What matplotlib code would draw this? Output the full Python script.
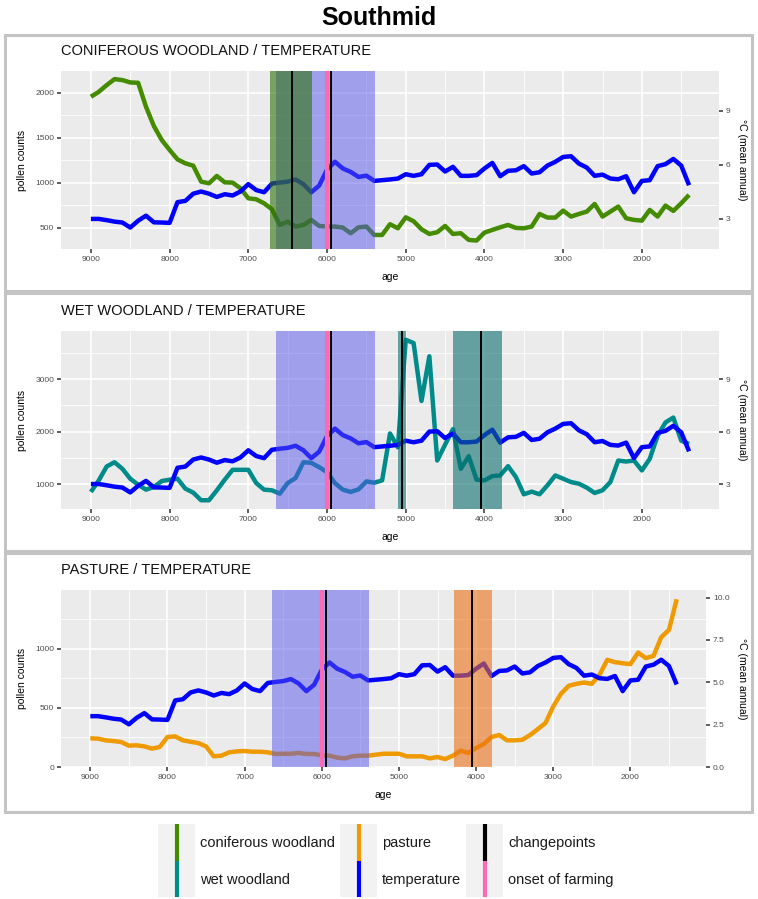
import numpy as np
import matplotlib.pyplot as plt
from matplotlib.patches import Rectangle

plt.rcParams['font.family'] = ['Liberation Sans', 'DejaVu Sans']

# ---- data ----
age = np.arange(9000, 1399, -100)

temperature = [3.0, 3.0, 2.93, 2.85, 2.8, 2.52, 2.9, 3.18, 2.81, 2.8,
               2.78, 3.93, 4.0, 4.4, 4.52, 4.4, 4.22, 4.37, 4.3, 4.52,
               4.93, 4.6, 4.48, 4.96, 5.02, 5.07, 5.19, 4.93, 4.48, 4.85,
               5.74, 6.17, 5.8, 5.61, 5.33, 5.4, 5.11, 5.15, 5.19, 5.24,
               5.48, 5.39, 5.48, 6.0, 6.02, 5.63, 5.89, 5.39, 5.39, 5.43,
               5.8, 6.11, 5.37, 5.67, 5.7, 5.93, 5.52, 5.59, 5.96, 6.17,
               6.44, 6.48, 6.07, 5.85, 5.39, 5.46, 5.24, 5.2, 5.37, 4.48,
               5.11, 5.15, 5.93, 6.04, 6.33, 5.96, 4.87]

coniferous = [1956, 2011, 2085, 2152, 2141, 2115, 2111, 1845, 1631, 1476,
              1365, 1261, 1217, 1191, 1014, 995, 1077, 1006, 1003, 940,
              829, 818, 773, 707, 533, 570, 515, 533, 589, 522,
              515, 515, 504, 441, 507, 515, 422, 422, 541, 496,
              618, 574, 485, 433, 452, 522, 433, 441, 367, 360,
              448, 478, 507, 533, 500, 496, 515, 655, 615, 615,
              692, 626, 655, 681, 766, 626, 681, 737, 607, 589,
              581, 700, 626, 748, 689, 774, 866]

wet_woodland = [849, 1069, 1334, 1416, 1290, 1101, 987, 893, 943, 1057,
                1082, 1101, 912, 836, 691, 691, 880, 1082, 1271, 1271,
                1271, 1019, 893, 880, 817, 1019, 1114, 1416, 1404, 1322,
                1227, 1019, 893, 849, 899, 1050, 1025, 1069, 1965, 1700,
                3751, 3688, 2584, 3436, 1448, 1751, 2047, 1290, 1530, 1082,
                1069, 1151, 1164, 1341, 1133, 804, 855, 804, 975, 1164,
                1101, 1038, 1006, 931, 830, 880, 1038, 1448, 1429, 1448,
                1259, 1480, 1921, 2174, 2268, 1827, 1764]

pasture = [242, 239, 225, 219, 211, 180, 183, 174, 155, 169,
           253, 258, 225, 213, 202, 174, 90, 96, 124, 132,
           135, 129, 129, 124, 110, 112, 112, 118, 110, 110,
           98, 96, 79, 73, 90, 96, 96, 104, 112, 112,
           112, 90, 90, 90, 73, 84, 67, 96, 138, 118,
           160, 194, 253, 270, 225, 225, 230, 270, 320, 371,
           511, 618, 685, 702, 713, 702, 778, 904, 885, 876,
           868, 966, 919, 938, 1096, 1157, 1416]

onset_farming = 5995
panel_titles = ['CONIFEROUS WOODLAND / TEMPERATURE', 'WET WOODLAND / TEMPERATURE',
                'PASTURE / TEMPERATURE']
panel_series = [coniferous, wet_woodland, pasture]
panel_changepoints = [[6445, 5945], [5945, 5050, 4050], [5945, 4050]]
panel_intervals = [[(6650, 5390, 'temp'), (6725, 6195, 'conif')],
                   [(6650, 5390, 'temp'), (5100, 5000, 'wet'), (4400, 3780, 'wet')],
                   [(6650, 5390, 'temp'), (4280, 3790, 'past')]]
temp_scale = [200, 333.33, 143]
count_ticks = [[500, 1000, 1500, 2000], [1000, 2000, 3000], [0, 500, 1000]]
count_minor = [[750, 1250, 1750], [1500, 2500, 3500], [250, 750, 1250]]
temp_ticks = [[3, 6, 9], [3, 6, 9], [0, 2.5, 5, 7.5, 10]]
temp_labels = [['3', '6', '9'], ['3', '6', '9'], ['0.0', '2.5', '5.0', '7.5', '10.0']]
ylims = [(266, 2242), (524, 3918), (0, 1494)]
age_ticks = [9000, 8000, 7000, 6000, 5000, 4000, 3000, 2000]
age_minor = [8500, 7500, 6500, 5500, 4500, 3500, 2500, 1500]

legend_cols = [[('coniferous woodland', '#458B00'), ('wet woodland', '#008B8B')],
               [('pasture', '#EE9A00'), ('temperature', '#0000FF')],
               [('changepoints', '#000000'), ('onset of farming', '#FF69B4')]]

# ---- styles ----
line_colors = ['#458B00', '#008B8B', '#EE9A00']
band_colors = {'temp': ('#5555EB', 0.5), 'conif': ('#2C7208', 0.6),
               'wet': ('#0A6E6E', 0.6), 'past': ('#EB7117', 0.6)}

W, H = 758, 899
fig = plt.figure(figsize=(W / 100, H / 100), dpi=100)
fig.patch.set_facecolor('white')


def px_axes(x0, y0, x1, y1):
    return fig.add_axes([x0 / W, 1 - y1 / H, (x1 - x0) / W, (y1 - y0) / H])


plot_boxes = [(61, 71, 719, 249), (61, 331, 719, 509), (61, 590, 706, 767)]

for i in range(3):
    x0, y0, x1, y1 = plot_boxes[i]
    ax = px_axes(x0, y0, x1, y1)
    ax.set_facecolor('#EBEBEB')
    f = temp_scale[i]

    ax.plot(age, panel_series[i], color=line_colors[i], lw=3.2, zorder=2,
            solid_joinstyle='round', solid_capstyle='butt')
    ax.plot(age, np.array(temperature) * f, color='#0000FF', lw=3.2, zorder=2.1,
            solid_joinstyle='round', solid_capstyle='butt')

    for a, b, kind in panel_intervals[i]:
        c, al = band_colors[kind]
        ax.axvspan(b, a, color=c, alpha=al, lw=0, zorder=3)

    ax.axvline(onset_farming, color='#FF69B4', lw=3.0, zorder=4)
    for cp in panel_changepoints[i]:
        ax.axvline(cp, color='black', lw=1.4, zorder=5)

    ax.set_xlim(9380, 1020)
    ax.set_ylim(*ylims[i])
    ax.set_xticks(age_ticks)
    ax.set_xticks(age_minor, minor=True)
    ax.set_yticks(count_ticks[i])
    ax.set_yticks(count_minor[i], minor=True)
    ax.set_axisbelow(True)
    ax.grid(which='major', color='white', lw=1.2)
    ax.grid(which='minor', color='white', lw=0.6)
    for s in ax.spines.values():
        s.set_visible(False)
    ax.tick_params(which='major', length=3, width=1.1, color='#333333',
                   labelsize=6, labelcolor='#4D4D4D', pad=2)
    ax.tick_params(which='minor', length=0)
    ax.set_xlabel('age', fontsize=7.5, va='center')
    ax.xaxis.set_label_coords(0.5, -28 / (y1 - y0))
    ax.set_ylabel('pollen counts', fontsize=7.5, va='center', ha='center')
    ax.yaxis.set_label_coords(-39 / (x1 - x0), 0.5)
    ax.text(0, 1 + 20 / (y1 - y0), panel_titles[i], transform=ax.transAxes,
            fontsize=10.5, ha='left', va='center', color='#111111')

    ax2 = ax.twinx()
    ax2.set_ylim(ylims[i][0] / f, ylims[i][1] / f)
    ax2.set_yticks(temp_ticks[i])
    ax2.set_yticklabels(temp_labels[i])
    for s in ax2.spines.values():
        s.set_visible(False)
    ax2.tick_params(which='major', length=3, width=1.1, color='#333333',
                    labelsize=6, labelcolor='#4D4D4D', pad=2)
    ax2.set_ylabel('°C (mean annual)', fontsize=7.5, rotation=270,
                   va='center', ha='center')
    ax2.yaxis.set_label_coords(1 + (742 - x1) / (x1 - x0), 0.5)

# overlay for frames, title and legend, in pixel coordinates
lay = fig.add_axes([0, 0, 1, 1])
lay.set_xlim(0, W)
lay.set_ylim(H, 0)
lay.axis('off')

frames = [(5, 35, 752, 291), (5, 293, 752, 551), (5, 553, 752, 812)]
for x0, y0, x1, y1 in frames:
    lay.add_patch(Rectangle((x0, y0), x1 - x0, y1 - y0, fill=False,
                            edgecolor='#C4C4C4', lw=2.2))

lay.text(379, 18, 'Southmid', fontsize=18, fontweight='bold', ha='center', va='center')

key_x = [158, 340, 466]
key_top, key_mid, key_bot = 824, 861, 897
for j, col in enumerate(legend_cols):
    kx = key_x[j]
    lay.add_patch(Rectangle((kx, key_top), 37, key_bot - key_top,
                            facecolor='#F2F2F2', edgecolor='none'))
    (lab1, c1), (lab2, c2) = col
    lay.plot([kx + 18.5, kx + 18.5], [key_top, key_mid], color=c1, lw=3,
             solid_capstyle='butt')
    lay.plot([kx + 18.5, kx + 18.5], [key_mid, key_bot], color=c2, lw=3,
             solid_capstyle='butt')
    lay.text(kx + 42, 843, lab1, fontsize=10.5, ha='left', va='center', color='#1A1A1A')
    lay.text(kx + 42, 880, lab2, fontsize=10.5, ha='left', va='center', color='#1A1A1A')

fig.savefig('out.png', dpi=100)
